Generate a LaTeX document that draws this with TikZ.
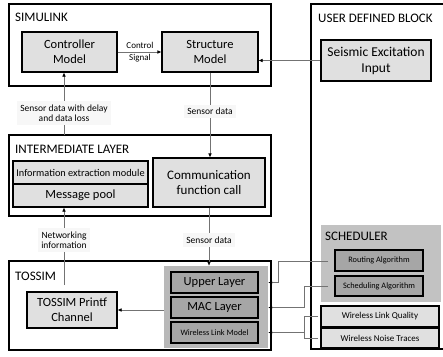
\documentclass[tikz,border=0pt]{standalone}
\usepackage{fontspec}
\setmainfont{Carlito}
\usetikzlibrary{arrows.meta,positioning}

\tikzset{
  layer/.style={draw,line width=1.1pt,inner sep=0pt},
  blk/.style={draw,line width=1.1pt,fill=black!12,align=center,inner sep=1pt,font=\fontsize{12.5}{15}\selectfont},
  darkblk/.style={blk,fill=black!35},
  panel/.style={fill=black!28,inner sep=0pt},
  ttl/.style={anchor=west,inner sep=0pt,font=\fontsize{13}{15}\selectfont},
  lbl/.style={fill=black!3,align=center,inner sep=3.5pt,font=\fontsize{9.5}{10.5}\selectfont},
  small/.style={font=\fontsize{8.3}{10}\selectfont},
  link/.style={draw=black!55,line width=0.6pt,-{Latex[length=4pt,width=3.5pt,color=black]}},
  wire/.style={draw=black!55,line width=0.6pt},
}

\begin{document}
\begin{tikzpicture}[x=1pt,y=-1pt]
  \useasboundingbox (0,0) rectangle (443,356);

  % Simulink
  \node[layer,minimum width=262pt,minimum height=82pt] (simulink) at (140,45) {};
  \node[ttl] (simtitle) at (15,17) {SIMULINK};
  \node[blk,minimum width=95pt,minimum height=40pt] (ctrl) at (69.5,52) {Controller\\Model};
  \node[blk,minimum width=96pt,minimum height=40pt] (struct) at (210,52) {Structure\\Model};

  % User defined block
  \node[layer,minimum width=140pt,minimum height=345pt] (udb) at (381,176.5) {};
  \node[ttl] (udbtitle) at (318,18) {USER DEFINED BLOCK};
  \node[blk,minimum width=110pt,minimum height=41pt,font=\fontsize{13.5}{16}\selectfont] (seismic) at (376,60.5) {Seismic Excitation\\Input};

  % Intermediate layer
  \node[layer,minimum width=262pt,minimum height=81pt] (inter) at (140,175.5) {};
  \node[ttl] (intertitle) at (15,149) {INTERMEDIATE LAYER};
  \node[blk,minimum width=135pt,minimum height=23pt,font=\fontsize{10.3}{12}\selectfont] (info) at (80.5,172.5) {Information extraction module};
  \node[blk,minimum width=135pt,minimum height=23pt] (pool) at (80.5,195.5) {Message pool};
  \node[blk,minimum width=112pt,minimum height=49pt,font=\fontsize{13}{15.5}\selectfont] (comm) at (209,182.5) {Communication\\function call};

  % TOSSIM
  \node[layer,minimum width=262pt,minimum height=89pt] (tossim) at (140,305.5) {};
  \node[ttl] (tossimtitle) at (15,276) {TOSSIM};
  \node[blk,minimum width=90pt,minimum height=36pt] (printf) at (72,310) {TOSSIM Printf\\Channel};
  \node[panel,minimum width=104pt,minimum height=82pt] (radio) at (216,307) {};
  \node[darkblk,minimum width=87pt,minimum height=21pt] (upper) at (214.5,282.5) {Upper Layer};
  \node[darkblk,minimum width=87pt,minimum height=21pt] (mac) at (214.5,307.5) {MAC Layer};
  \node[darkblk,small,minimum width=87pt,minimum height=21pt] (wlm) at (214.5,332.5) {Wireless Link Model};

  % Scheduler
  \node[panel,fill=black!24,minimum width=120pt,minimum height=77pt] (sched) at (381,263.5) {};
  \node[ttl] (schedtitle) at (325,236) {SCHEDULER};
  \node[darkblk,small,minimum width=88pt,minimum height=21pt] (routing) at (379,260.5) {Routing Algorithm};
  \node[darkblk,small,minimum width=88pt,minimum height=20pt] (scheduling) at (379,286) {Scheduling Algorithm};
  \node[blk,small,font=\fontsize{9}{10}\selectfont,minimum width=118pt,minimum height=21pt] (linkq) at (380,316.5) {Wireless Link Quality};
  \node[blk,small,font=\fontsize{9}{10}\selectfont,minimum width=118pt,minimum height=19pt] (noise) at (380,338) {Wireless Noise Traces};

  % Connectors
  \draw[link] (ctrl.east) -- (struct.west);
  \node[font=\fontsize{9}{12}\selectfont,align=center] (ctrlsig) at (140,52) {Control\\Signal};
  \draw[link] (seismic.west) -- (seismic.west -| struct.east);

  \coordinate (sdin) at (64,135);
  \draw[link] (sdin) -- (sdin |- ctrl.south) node[lbl,pos=0.35] {Sensor data with delay\\and data loss};
  \draw[link] (struct.south) -- (struct.south |- comm.north) node[lbl,pos=0.46] {Sensor data};

  \coordinate (netin) at (64,285);
  \draw[link] (netin) -- (netin |- pool.south) node[lbl,pos=0.58] {Networking\\information};
  \draw[link] (comm.south) -- (comm.south |- radio.north) node[lbl,pos=0.56] {Sensor data};

  \draw[link] (radio.west |- printf.east) -- (printf.east);

  \coordinate (rt) at (328,261);
  \coordinate (sc) at (328,286);
  \draw[link] (rt) -| (278,282.5) -- (radio.east |- upper.east);
  \draw[link] (sc) -| (304,307.5) -- (radio.east |- mac.east);
  \coordinate (wq) at (318,316.5);
  \coordinate (wn) at (318,338);
  \draw[wire] (wq) -| (304,338) -- (wn);
  \draw[link] (304,332.5) -- (radio.east |- wlm.east);
\end{tikzpicture}
\end{document}
